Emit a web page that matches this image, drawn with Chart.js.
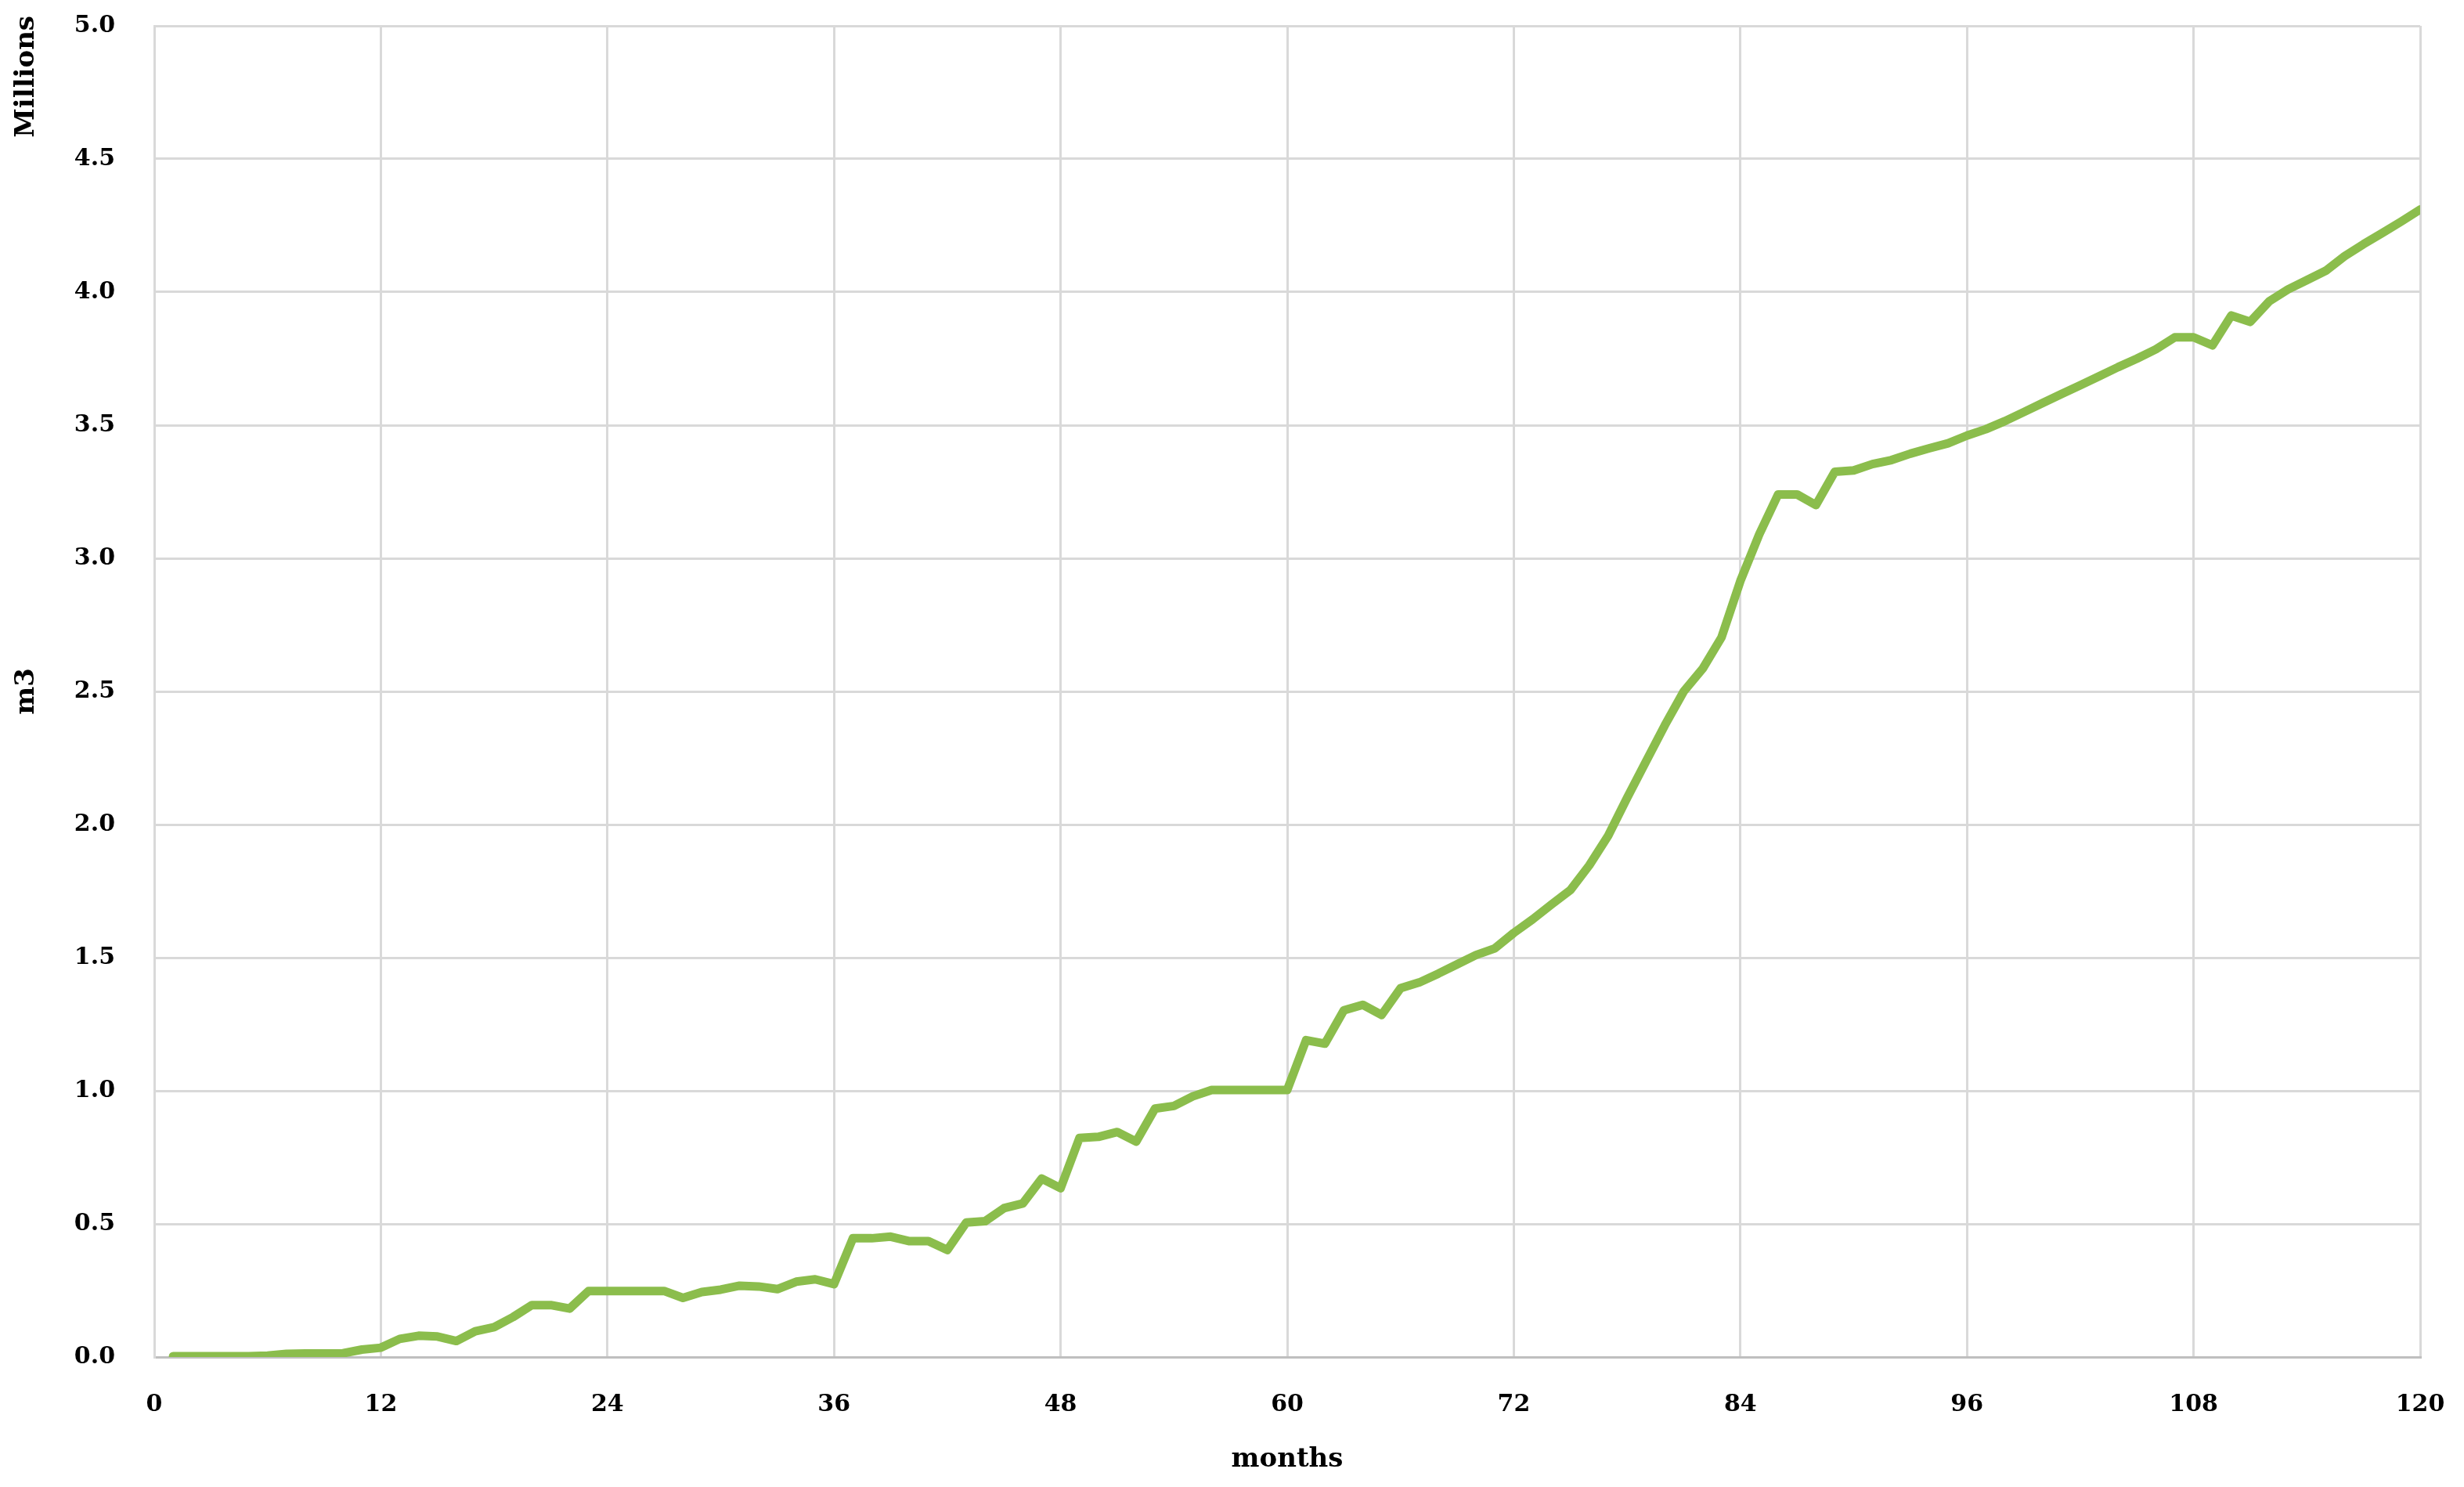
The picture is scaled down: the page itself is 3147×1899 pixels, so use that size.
<!DOCTYPE html>
<html>
<head>
<meta charset="utf-8">
<script src="https://cdn.jsdelivr.net/npm/chart.js@4"></script>
<style>
  html, body { margin: 0; padding: 0; background: #fff; }
  canvas { display: block; }
</style>
</head>
<body>
<canvas id="myChart" width="3147" height="1899"></canvas>
<script>
// months since start
const months = [
    1, 2, 3, 4, 5, 6, 7, 8, 9, 10, 11, 12,
    13, 14, 15, 16, 17, 18, 19, 20, 21, 22, 23, 24,
    25, 26, 27, 28, 29, 30, 31, 32, 33, 34, 35, 36,
    37, 38, 39, 40, 41, 42, 43, 44, 45, 46, 47, 48,
    49, 50, 51, 52, 53, 54, 55, 56, 57, 58, 59, 60,
    61, 62, 63, 64, 65, 66, 67, 68, 69, 70, 71, 72,
    73, 74, 75, 76, 77, 78, 79, 80, 81, 82, 83, 84,
    85, 86, 87, 88, 89, 90, 91, 92, 93, 94, 95, 96,
    97, 98, 99, 100, 101, 102, 103, 104, 105, 106, 107, 108,
    109, 110, 111, 112, 113, 114, 115, 116, 117, 118, 119, 120
];

// cumulative volume, millions of m3
const volume = [
    0.003, 0.003, 0.003, 0.003, 0.003, 0.005, 0.012, 0.013, 0.013, 0.014, 0.028, 0.035,
    0.068, 0.080, 0.077, 0.060, 0.097, 0.112, 0.150, 0.195, 0.195, 0.182, 0.248, 0.248,
    0.248, 0.248, 0.248, 0.222, 0.244, 0.253, 0.268, 0.265, 0.255, 0.283, 0.292, 0.274,
    0.446, 0.446, 0.452, 0.435, 0.435, 0.402, 0.505, 0.510, 0.559, 0.577, 0.670, 0.634,
    0.823, 0.827, 0.845, 0.809, 0.933, 0.943, 0.979, 1.003, 1.003, 1.003, 1.003, 1.003,
    1.190, 1.177, 1.302, 1.323, 1.285, 1.385, 1.407, 1.440, 1.475, 1.510, 1.535, 1.593,
    1.644, 1.700, 1.754, 1.847, 1.958, 2.100, 2.237, 2.373, 2.500, 2.585, 2.703, 2.915,
    3.090, 3.240, 3.240, 3.200, 3.325, 3.330, 3.354, 3.369, 3.393, 3.413, 3.432, 3.461,
    3.485, 3.515, 3.549, 3.583, 3.617, 3.650, 3.684, 3.718, 3.750, 3.785, 3.830, 3.830,
    3.800, 3.912, 3.888, 3.965, 4.010, 4.045, 4.080, 4.135, 4.180, 4.222, 4.265, 4.310
];

// axis ticks
const xTicks = [0, 12, 24, 36, 48, 60, 72, 84, 96, 108, 120];
const yTicks = [0, 0.5, 1, 1.5, 2, 2.5, 3, 3.5, 4, 4.5, 5];

const fontFamily = '"DejaVu Serif", "Liberation Serif", serif';
const gridColor = '#d9d9d9';

// "Millions" label above the y axis, rotated
const millionsLabel = {
    id: 'millionsLabel',
    afterDraw(chart) {
        const ctx = chart.ctx;
        ctx.save();
        ctx.translate(34, 20);
        ctx.rotate(-Math.PI / 2);
        ctx.font = 'bold 34px ' + fontFamily;
        ctx.fillStyle = '#000';
        ctx.textAlign = 'right';
        ctx.textBaseline = 'middle';
        ctx.fillText('Millions', 0, 0);
        ctx.restore();
    }
};

const points = months.map((m, i) => ({ x: m, y: volume[i] }));

const ctx = document.getElementById('myChart').getContext('2d');
new Chart(ctx, {
    type: 'line',
    data: {
        datasets: [{
            data: points,
            borderColor: '#8bbd4c',
            borderWidth: 11,
            borderJoinStyle: 'round',
            borderCapStyle: 'round',
            pointRadius: 0,
            tension: 0,
            fill: false
        }]
    },
    options: {
        responsive: false,
        animation: false,
        devicePixelRatio: 1,
        layout: { padding: { top: 33, right: 56, bottom: 0, left: 0 } },
        plugins: {
            legend: { display: false },
            tooltip: { enabled: false }
        },
        scales: {
            x: {
                type: 'linear',
                min: 0,
                max: 120,
                afterBuildTicks: (scale) => { scale.ticks = xTicks.map(v => ({ value: v })); },
                afterFit: (scale) => {
                    scale.height = 166;
                    scale.paddingLeft = 0;
                    scale.paddingRight = 0;
                },
                grid: { color: gridColor, lineWidth: 3, drawTicks: false },
                border: { color: '#bfbfbf', width: 3 },
                ticks: {
                    padding: 43,
                    color: '#000',
                    font: { family: fontFamily, size: 30, weight: 'bold' }
                },
                title: {
                    display: true,
                    text: 'months',
                    color: '#000',
                    font: { family: fontFamily, size: 34, weight: 'bold' },
                    padding: { top: 0, bottom: 14 }
                }
            },
            y: {
                min: 0,
                max: 5,
                afterBuildTicks: (scale) => { scale.ticks = yTicks.map(v => ({ value: v })); },
                afterFit: (scale) => {
                    scale.width = 197;
                    scale.paddingTop = 0;
                    scale.paddingBottom = 0;
                },
                grid: { color: gridColor, lineWidth: 3, drawTicks: false },
                border: { color: gridColor, width: 3 },
                ticks: {
                    padding: 50,
                    color: '#000',
                    font: { family: fontFamily, size: 30, weight: 'bold' },
                    callback: (v) => Number(v).toFixed(1)
                },
                title: {
                    display: true,
                    text: 'm3',
                    color: '#000',
                    font: { family: fontFamily, size: 34, weight: 'bold' },
                    padding: { top: 14, bottom: 0 }
                }
            }
        }
    },
    plugins: [millionsLabel]
});
</script>
</body>
</html>
